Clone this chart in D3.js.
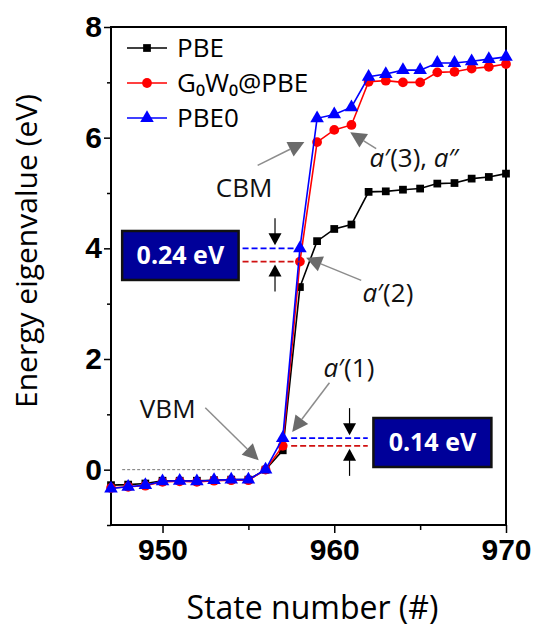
<!DOCTYPE html>
<html>
<head>
<meta charset="utf-8">
<script src="https://cdn.jsdelivr.net/npm/d3@7"></script>
<style>
  body { margin: 0; background: #fff; }
  svg { display: block; }
  .lbl { font-family: "Open Sans", "Noto Sans", sans-serif; }
  .tick text { font-family: "Liberation Sans", Arial, sans-serif; font-weight: bold; }
</style>
</head>
<body>
<div id="chart"></div>
<script>
// state numbers
const states = d3.range(947, 971);

// energies (eV)
const pbe = [-0.28, -0.27, -0.25, -0.2, -0.2, -0.2, -0.19, -0.18, -0.18, 0.0, 0.35, 3.3,
  4.13, 4.35, 4.43, 5.02, 5.03, 5.06, 5.08, 5.17, 5.18, 5.26, 5.29, 5.35];
const g0w0 = [-0.33, -0.31, -0.29, -0.22, -0.21, -0.22, -0.2, -0.19, -0.19, 0.0, 0.43, 3.76,
  5.92, 6.14, 6.23, 7.01, 7.03, 7.0, 7.0, 7.18, 7.19, 7.25, 7.28, 7.33];
const pbe0 = [-0.34, -0.31, -0.28, -0.21, -0.2, -0.21, -0.19, -0.18, -0.18, 0.0, 0.57, 4.0,
  6.35, 6.42, 6.55, 7.1, 7.15, 7.22, 7.22, 7.35, 7.35, 7.38, 7.42, 7.46];

const seriesNames = ["PBE", "G\u2080W\u2080@PBE", "PBE0"];
const xTicks = [950, 955, 960, 965, 970];
const yTicks = [-1, 0, 1, 2, 3, 4, 5, 6, 7, 8];

const W = 535, H = 629;
const margin = {left: 111, right: 29, top: 27, bottom: 104};

const svg = d3.select("#chart").append("svg")
  .attr("width", W).attr("height", H);

const x = d3.scaleLinear().domain([947, 970]).range([margin.left, W - margin.right]);
const y = d3.scaleLinear().domain([-1, 8]).range([H - margin.bottom, margin.top]);

// frame
svg.append("rect")
  .attr("x", x(947)).attr("y", y(8))
  .attr("width", x(970) - x(947)).attr("height", y(-1) - y(8))
  .attr("fill", "none").attr("stroke", "#000").attr("stroke-width", 2);

// axes
const xAxis = d3.axisBottom(x).tickValues(xTicks)
  .tickSize(0).tickPadding(12)
  .tickFormat(d => d % 10 === 0 ? d : "");
const gx = svg.append("g").attr("transform", `translate(0,${y(-1)})`).call(xAxis);
gx.select(".domain").remove();
gx.selectAll(".tick line").remove();
gx.selectAll(".tick").append("line")
  .attr("y2", d => d % 10 === 0 ? 8 : 5)
  .attr("stroke", "#000").attr("stroke-width", 1.5);
gx.selectAll(".tick text").attr("font-size", 30).attr("fill", "#000").attr("dy", "0.75em");

const yAxis = d3.axisLeft(y).tickValues(yTicks)
  .tickSize(0).tickPadding(9)
  .tickFormat(d => (d >= 0 && d % 2 === 0) ? d : "");
const gy = svg.append("g").attr("transform", `translate(${x(947)},0)`).call(yAxis);
gy.select(".domain").remove();
gy.selectAll(".tick line").remove();
gy.selectAll(".tick").append("line")
  .attr("x2", d => d % 2 === 0 ? -7 : -4)
  .attr("stroke", "#000").attr("stroke-width", 1.5);
gy.selectAll(".tick text").attr("font-size", 30).attr("fill", "#000");

// axis titles
svg.append("text").attr("class", "lbl")
  .attr("x", (x(947) + x(970)) / 2 + 4).attr("y", 619)
  .attr("text-anchor", "middle").attr("font-size", 32)
  .text("State number (#)");

svg.append("text").attr("class", "lbl")
  .attr("transform", `translate(37,${(y(-1) + y(8)) / 2 - 25}) rotate(-90)`)
  .attr("text-anchor", "middle").attr("font-size", 30)
  .text("Energy eigenvalue (eV)");

// zero reference line
svg.append("line")
  .attr("x1", x(947.65)).attr("x2", x(955.6))
  .attr("y1", y(0)).attr("y2", y(0))
  .attr("stroke", "#777").attr("stroke-width", 1).attr("stroke-dasharray", "3,2");

const line = d3.line().x((d, i) => x(states[i])).y(d => y(d));

const cfg = [
  {vals: pbe, color: "#000", shape: d3.symbolSquare, size: 60},
  {vals: g0w0, color: "#ff0000", shape: d3.symbolCircle, size: 75},
  {vals: pbe0, color: "#0000ff", shape: d3.symbolTriangle, size: 80}
];

cfg.forEach(c => {
  svg.append("path").datum(c.vals)
    .attr("d", line).attr("fill", "none")
    .attr("stroke", c.color).attr("stroke-width", 1.6);
  svg.append("g").selectAll("path").data(c.vals).join("path")
    .attr("transform", (d, i) => `translate(${x(states[i])},${y(d)})`)
    .attr("d", d3.symbol().type(c.shape).size(c.size))
    .attr("fill", c.color);
});

// legend
const leg = svg.append("g").attr("transform", `translate(${x(947) + 16},48)`);
cfg.forEach((c, i) => {
  const g = leg.append("g").attr("transform", `translate(0,${i * 35})`);
  g.append("line").attr("x1", 0).attr("x2", 40).attr("stroke", c.color).attr("stroke-width", 1.6);
  g.append("path").attr("transform", "translate(20,0)")
    .attr("d", d3.symbol().type(c.shape).size(c.size)).attr("fill", c.color);
  g.append("text").attr("class", "lbl").attr("x", 50).attr("y", 9)
    .attr("font-size", 26).text(seriesNames[i]);
});

// annotation arrows (data coords)
const notes = [
  {label: [["CBM", false]], tx: 954.75, ty: 4.92, anchor: "middle", from: [955.54, 5.50], to: [958.26, 5.92]},
  {label: [["a", true], ["\u2032(3), ", false], ["a", true], ["\u2033", false]], tx: 962.05, ty: 5.47, anchor: "start", from: [962.44, 5.80], to: [960.93, 6.10]},
  {label: [["a", true], ["\u2032(2)", false]], tx: 961.64, ty: 3.03, anchor: "start", from: [961.57, 3.42], to: [958.36, 3.83]},
  {label: [["a", true], ["\u2032(1)", false]], tx: 959.37, ty: 1.67, anchor: "start", from: [959.72, 1.57], to: [957.55, 0.68]},
  {label: [["VBM", false]], tx: 948.68, ty: 0.94, anchor: "start", from: [952.49, 1.12], to: [955.6, 0.17]}
];

function arrowHead(g, x0, y0, x1, y1, len, wid, color) {
  const a = Math.atan2(y1 - y0, x1 - x0);
  const bx = x1 - len * Math.cos(a), by = y1 - len * Math.sin(a);
  const px = -Math.sin(a) * wid / 2, py = Math.cos(a) * wid / 2;
  g.append("path")
    .attr("d", `M${x1},${y1}L${bx + px},${by + py}L${bx - px},${by - py}Z`)
    .attr("fill", color);
  return [bx, by];
}

notes.forEach(n => {
  const x0 = x(n.from[0]), y0 = y(n.from[1]), x1 = x(n.to[0]), y1 = y(n.to[1]);
  const [bx, by] = arrowHead(svg, x0, y0, x1, y1, 16, 16, "#6b6b6b");
  svg.append("line").attr("x1", x0).attr("y1", y0).attr("x2", bx).attr("y2", by)
    .attr("stroke", "#8c8c8c").attr("stroke-width", 1.5);
  const t = svg.append("text").attr("class", "lbl")
    .attr("x", x(n.tx)).attr("y", y(n.ty))
    .attr("text-anchor", n.anchor).attr("font-size", 26).attr("fill", "#111");
  n.label.forEach(p => t.append("tspan").attr("font-style", p[1] ? "italic" : "normal").text(p[0]));
});

// gap markers
const gaps = [
  {hi: 4.0, lo: 3.76, xs: [954.66, 958.0], ax: 956.55, box: [947.65, 954.43], text: "0.24 eV"},
  {hi: 0.57, lo: 0.43, xs: [957.49, 961.95], ax: 960.89, box: [962.28, 969.15], text: "0.14 eV"}
];

gaps.forEach(gp => {
  const yh = y(gp.hi), yl = y(gp.lo);
  svg.append("line").attr("x1", x(gp.xs[0])).attr("x2", x(gp.xs[1]))
    .attr("y1", yh).attr("y2", yh)
    .attr("stroke", "#0000ff").attr("stroke-width", 1.6).attr("stroke-dasharray", "6,3");
  svg.append("line").attr("x1", x(gp.xs[0])).attr("x2", x(gp.xs[1]))
    .attr("y1", yl).attr("y2", yl)
    .attr("stroke", "#d01010").attr("stroke-width", 1.6).attr("stroke-dasharray", "6,3");
  const ax = x(gp.ax);
  svg.append("line").attr("x1", ax).attr("x2", ax).attr("y1", yh - 30).attr("y2", yh - 12)
    .attr("stroke", "#000").attr("stroke-width", 1.2);
  arrowHead(svg, ax, yh - 30, ax, yh - 3, 12, 13, "#000");
  svg.append("line").attr("x1", ax).attr("x2", ax).attr("y1", yl + 12).attr("y2", yl + 30)
    .attr("stroke", "#000").attr("stroke-width", 1.2);
  arrowHead(svg, ax, yl + 30, ax, yl + 3, 12, 13, "#000");

  const bx0 = x(gp.box[0]), bx1 = x(gp.box[1]);
  const cy = (yh + yl) / 2;
  svg.append("rect").attr("x", bx0).attr("y", cy - 24)
    .attr("width", bx1 - bx0).attr("height", 49)
    .attr("fill", "#000099").attr("stroke", "#111").attr("stroke-width", 2.5);
  svg.append("text").attr("class", "lbl")
    .attr("x", (bx0 + bx1) / 2).attr("y", cy + 9)
    .attr("text-anchor", "middle").attr("font-size", 25).attr("font-weight", "bold")
    .attr("fill", "#fff").text(gp.text);
});
</script>
</body>
</html>
